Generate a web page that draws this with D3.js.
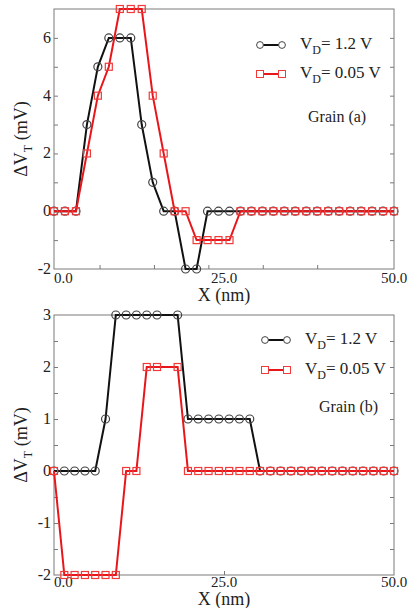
<!DOCTYPE html>
<html>
<head>
<meta charset="utf-8">
<script src="https://cdn.jsdelivr.net/npm/d3@7"></script>
<style>
  body { margin: 0; background: #fff; }
</style>
</head>
<body>
<div id="chart"></div>
<script>
const width = 414;
const height = 608;
const plotLeft = 54;
const plotRight = 394;
const serif = '"Liberation Serif"';

// grain (a): x positions (nm) and threshold shifts (mV)
const topX = [0, 1.61, 3.23, 4.84, 6.45, 8.06, 9.68, 11.29, 12.90, 14.52, 16.13, 17.74, 19.35, 20.97, 22.58, 24.19,
  25.81, 27.42, 29.03, 30.65, 32.26, 33.87, 35.48, 37.10, 38.71, 40.32, 41.94, 43.55, 45.16, 46.77, 48.39, 50.0];
const topBlack = [0, 0, 0, 3, 5, 6, 6, 6, 3, 1, 0, 0, -2, -2, 0, 0, 0, 0, 0, 0, 0, 0, 0, 0, 0, 0, 0, 0, 0, 0, 0, 0];
const topRed = [0, 0, 0, 2, 4, 5, 7, 7, 7, 4, 2, 0, 0, -1, -1, -1, -1, 0, 0, 0, 0, 0, 0, 0, 0, 0, 0, 0, 0, 0, 0, 0];

// grain (b)
const botX = [0, 1.52, 3.03, 4.55, 6.06, 7.58, 9.09, 10.61, 12.12, 13.64, 15.15, 18.18, 19.70, 21.21, 22.73, 24.24,
  25.76, 27.27, 28.79, 30.30, 31.82, 33.33, 34.85, 36.36, 37.88, 39.39, 40.91, 42.42, 43.94, 45.45, 46.97, 48.48, 50.0];
const botBlack = [0, 0, 0, 0, 0, 1, 3, 3, 3, 3, 3, 3, 1, 1, 1, 1, 1, 1, 1, 0, 0, 0, 0, 0, 0, 0, 0, 0, 0, 0, 0, 0, 0];
const botRed = [0, -2, -2, -2, -2, -2, -2, 0, 0, 2, 2, 2, 0, 0, 0, 0, 0, 0, 0, 0, 0, 0, 0, 0, 0, 0, 0, 0, 0, 0, 0, 0, 0];

const legendLabels = ["1.2 V", "0.05 V"];
const xLabelTicks = [0, 25, 50];
const topYLabels = [-2, 0, 2, 4, 6];
const topYMarks = [-1, 0, 1, 2, 3, 4, 5, 6];
const botYLabels = [-2, -1, 0, 1, 2, 3];
const botYMarks = [-1.5, -1, -0.5, 0, 0.5, 1, 1.5, 2, 2.5];
const topXMarks = [6.7, 14.7, 22.7, 30.7, 38.7];
const botXMarks = [25];

const svg = d3.select('#chart').append('svg')
  .attr('width', width)
  .attr('height', height)
  .style('font-family', serif);

drawPanel({
  top: 9, bottom: 269, yDomain: [-2, 7],
  xs: topX, black: topBlack, red: topRed,
  yLabels: topYLabels, yMarks: topYMarks, xMarks: topXMarks,
  legendX: 260, legendY: 45, legendGap: 29, grain: "Grain (a)", grainX: 308, grainY: 122,
  tickBase: 283, titleBase: 301
});
drawPanel({
  top: 315, bottom: 575, yDomain: [-2, 3],
  xs: botX, black: botBlack, red: botRed,
  yLabels: botYLabels, yMarks: botYMarks, xMarks: botXMarks,
  legendX: 265, legendY: 340, legendGap: 30, grain: "Grain (b)", grainX: 319, grainY: 412,
  tickBase: 587, titleBase: 605
});

function addText(sel, size) {
  return sel.append('text')
    .style('font-family', serif)
    .style('font-size', size)
    .style('fill', '#222');
}

function drawPanel(p) {
  var x = d3.scaleLinear().domain([0, 50]).range([plotLeft, plotRight]);
  var y = d3.scaleLinear().domain(p.yDomain).range([p.bottom, p.top]);
  var g = svg.append('g');

  // frame
  g.append('rect')
    .attr('x', plotLeft).attr('y', p.top)
    .attr('width', plotRight - plotLeft).attr('height', p.bottom - p.top)
    .style('fill', 'none').style('stroke', '#7a7a7a').style('stroke-width', 1);

  // inward tick marks, no labels
  g.append('g').attr('transform', `translate(${plotLeft},0)`)
    .call(d3.axisLeft(y).tickValues(p.yMarks).tickSize(-4).tickFormat(''));
  g.append('g').attr('transform', `translate(${plotRight},0)`)
    .call(d3.axisRight(y).tickValues(p.yMarks).tickSize(-4).tickFormat(''));
  g.append('g').attr('transform', `translate(0,${p.bottom})`)
    .call(d3.axisBottom(x).tickValues(p.xMarks).tickSize(-4).tickFormat(''));
  g.selectAll('.domain').remove();
  g.selectAll('.tick line').style('stroke', '#7a7a7a');

  // y labels
  p.yLabels.forEach(d => {
    addText(g, '16px')
      .attr('x', plotLeft - 3)
      .attr('y', y(d) + 5)
      .style('text-anchor', 'end')
      .text(d);
  });

  // x labels
  xLabelTicks.forEach((d, i) => {
    addText(g, '15px')
      .attr('x', x(d))
      .attr('y', p.tickBase)
      .style('text-anchor', i == 0 ? 'start' : 'middle')
      .text(d3.format('.1f')(d));
  });

  addText(g, '18px')
    .attr('x', (plotLeft + plotRight) / 2)
    .attr('y', p.titleBase)
    .style('text-anchor', 'middle')
    .text('X (nm)');

  var yt = addText(g, '18px')
    .attr('transform', `translate(27,${(p.top + p.bottom) / 2}) rotate(-90)`)
    .style('text-anchor', 'middle');
  yt.append('tspan').text('ΔV');
  yt.append('tspan').attr('dy', 5).style('font-size', '12px').text('T');
  yt.append('tspan').attr('dy', -5).text(' (mV)');

  // series
  var line = d3.line().x(d => x(d[0])).y(d => y(d[1]));
  var blackPts = p.xs.map((v, i) => [v, p.black[i]]);
  var redPts = p.xs.map((v, i) => [v, p.red[i]]);

  g.append('path').attr('d', line(blackPts))
    .style('fill', 'none').style('stroke', '#111').style('stroke-width', 2);
  g.selectAll('circle.bk')
    .data(blackPts).enter()
    .append('circle')
    .attr('class', 'bk')
    .attr('cx', d => x(d[0])).attr('cy', d => y(d[1]))
    .attr('r', 4)
    .style('fill', 'none').style('stroke', '#444').style('stroke-width', 1.2);

  g.append('path').attr('d', line(redPts))
    .style('fill', 'none').style('stroke', '#e8161b').style('stroke-width', 2);
  g.selectAll('rect.rd')
    .data(redPts).enter()
    .append('rect')
    .attr('class', 'rd')
    .attr('x', d => x(d[0]) - 3.5).attr('y', d => y(d[1]) - 3.5)
    .attr('width', 7).attr('height', 7)
    .style('fill', 'none').style('stroke', '#f03a3a').style('stroke-width', 1.2);

  // legend
  legendLabels.forEach((lab, i) => {
    var ly = p.legendY + i * p.legendGap;
    var col = i == 0 ? '#111' : '#e8161b';
    g.append('line')
      .attr('x1', p.legendX).attr('x2', p.legendX + 22)
      .attr('y1', ly).attr('y2', ly)
      .style('stroke', col).style('stroke-width', 2);
    [p.legendX, p.legendX + 22].forEach(cx => {
      if (i == 0) {
        g.append('circle').attr('cx', cx).attr('cy', ly).attr('r', 3.4)
          .style('fill', '#fff').style('stroke', '#444');
      } else {
        g.append('rect').attr('x', cx - 3.5).attr('y', ly - 3.5).attr('width', 7).attr('height', 7)
          .style('fill', '#fff').style('stroke', '#f03a3a');
      }
    });
    var t = addText(g, '17px')
      .attr('x', p.legendX + 40)
      .attr('y', ly + 4);
    t.append('tspan').text('V');
    t.append('tspan').attr('dy', 5).style('font-size', '12px').text('D');
    t.append('tspan').attr('dy', -5).text('= ' + lab);
  });

  addText(g, '16px')
    .attr('x', p.grainX)
    .attr('y', p.grainY)
    .text(p.grain);
}
</script>
</body>
</html>
